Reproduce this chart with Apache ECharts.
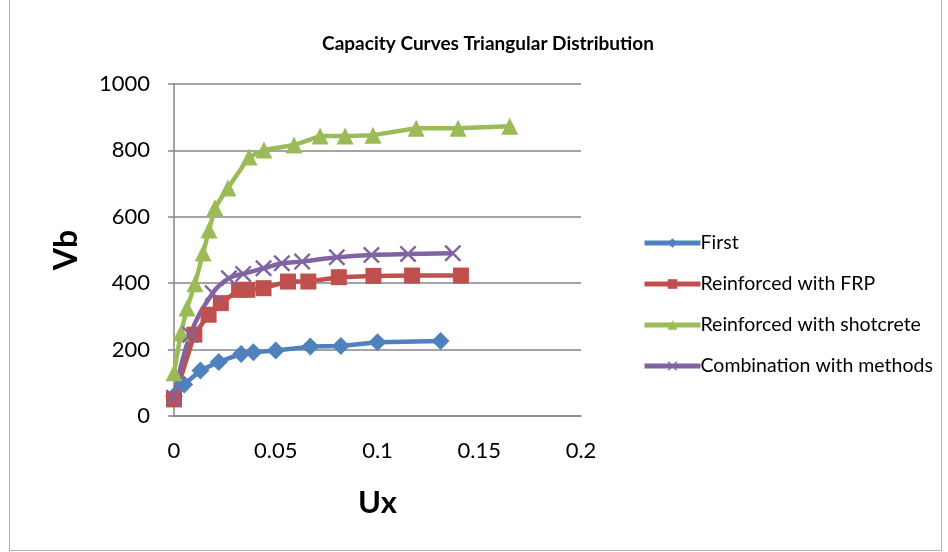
<!DOCTYPE html>
<html>
<head>
<meta charset="utf-8">
<script src="https://cdn.jsdelivr.net/npm/echarts@6/dist/echarts.min.js"></script>
<style>
    html, body {
        margin: 0;
        padding: 0;
        background: #fff;
    }
    .com-container {
        position: absolute;
        left: 9px;
        top: 0;
        width: 933px;
        height: 551px;
        border: 1px solid #b3b3b3;
        border-top: none;
        box-sizing: border-box;
    }
    #chart {
        position: absolute;
        left: 0;
        top: 0;
        width: 948px;
        height: 552px;
    }
</style>
</head>
<body>
<div class="com-container"></div>
<div id="chart"></div>
<script>
// x ticks
const xTicks = [0, 0.05, 0.1, 0.15, 0.2]
const yTicks = [0, 200, 400, 600, 800, 1000]

// First
const firstUx = [0, 0.005, 0.013, 0.022, 0.033, 0.039, 0.050, 0.067, 0.082, 0.100, 0.131]
const firstVb = [60, 95, 137, 163, 187, 192, 197, 209, 211, 222, 226]

// Reinforced with FRP
const frpUx = [0, 0.010, 0.017, 0.023, 0.032, 0.036, 0.044, 0.056, 0.066, 0.081, 0.098, 0.117, 0.141]
const frpVb = [50, 245, 305, 340, 380, 380, 385, 405, 405, 418, 422, 423, 423]

// Reinforced with shotcrete
const shotUx = [0, 0.0034, 0.0064, 0.0103, 0.0143, 0.0172, 0.0201, 0.0265, 0.0369, 0.0442, 0.059, 0.0718, 0.0841, 0.0978, 0.119, 0.1396, 0.165]
const shotVb = [130, 250, 325, 398, 491, 560, 627, 687, 780, 801, 816, 843, 843, 846, 867, 867, 873]

// Combination with methods
const combUx = [0, 0.008, 0.019, 0.027, 0.034, 0.044, 0.053, 0.063, 0.080, 0.097, 0.115, 0.137]
const combVb = [55, 245, 370, 415, 428, 445, 460, 465, 478, 485, 488, 490]

const pairs = (xs, ys) => xs.map((x, i) => [x, ys[i]])

const crossPath = 'path://M0,1L1,0L5,4L9,0L10,1L6,5L10,9L9,10L5,6L1,10L0,9L4,5Z'

const chartInstance = echarts.init(document.getElementById('chart'))
chartInstance.setOption({
    animation: false,
    textStyle: { fontFamily: 'Lato' },
    title: {
        text: 'Capacity Curves Triangular Distribution',
        left: 483,
        top: 29,
        textAlign: 'center',
        textStyle: { fontSize: 19, fontWeight: 'bold', color: '#000', fontFamily: 'Lato' }
    },
    legend: {
        orient: 'vertical',
        left: 637,
        top: 228,
        itemGap: 21,
        itemWidth: 56,
        itemHeight: 12,
        lineStyle: { width: 5 },
        textStyle: { fontSize: 19.5, color: '#000', fontFamily: 'Lato', padding: [0, 0, 0, -5] },
        data: ['First', 'Reinforced with FRP', 'Reinforced with shotcrete', 'Combination with methods']
    },
    grid: {
        left: 174,
        right: 367,
        top: 84,
        bottom: 136
    },
    xAxis: {
        type: 'value',
        min: xTicks[0],
        max: xTicks[xTicks.length - 1],
        interval: 0.05,
        name: 'Ux',
        nameLocation: 'middle',
        nameGap: 71,
        nameTextStyle: { fontSize: 31, fontWeight: 'bold', color: '#000', fontFamily: 'Lato' },
        axisLine: { onZero: false, lineStyle: { color: '#868686', width: 1.5 } },
        axisTick: { show: false },
        axisLabel: { fontSize: 22, color: '#000', margin: 24, formatter: v => String(+v.toFixed(2)) },
        splitLine: { show: false }
    },
    yAxis: {
        type: 'value',
        min: yTicks[0],
        max: yTicks[yTicks.length - 1],
        interval: 200,
        name: 'Vb',
        nameLocation: 'middle',
        nameGap: 91,
        nameTextStyle: { fontSize: 32, fontWeight: 'bold', color: '#000', fontFamily: 'Lato' },
        axisLine: { show: true, lineStyle: { color: '#868686', width: 1.5 } },
        axisTick: { show: true, length: 6, lineStyle: { color: '#868686', width: 1.5 } },
        axisLabel: { fontSize: 22, color: '#000', margin: 24, formatter: v => String(v) },
        splitLine: { lineStyle: { color: '#868686', width: 1.5 } }
    },
    series: [{
        name: 'First',
        type: 'line',
        data: pairs(firstUx, firstVb),
        symbol: 'diamond',
        symbolSize: 18,
        lineStyle: { color: '#4F81BD', width: 4.5 },
        itemStyle: { color: '#4F81BD' }
    }, {
        name: 'Reinforced with FRP',
        type: 'line',
        data: pairs(frpUx, frpVb),
        symbol: 'rect',
        symbolSize: 16,
        lineStyle: { color: '#C0504D', width: 4.5 },
        itemStyle: { color: '#C0504D' }
    }, {
        name: 'Reinforced with shotcrete',
        type: 'line',
        data: pairs(shotUx, shotVb),
        symbol: 'triangle',
        symbolSize: 17,
        lineStyle: { color: '#9BBB59', width: 4.5 },
        itemStyle: { color: '#9BBB59' }
    }, {
        name: 'Combination with methods',
        type: 'line',
        data: pairs(combUx, combVb),
        smooth: 0.4,
        symbol: crossPath,
        symbolSize: 17,
        lineStyle: { color: '#8064A2', width: 4.5 },
        itemStyle: { color: '#8064A2' }
    }]
})
</script>
</body>
</html>
